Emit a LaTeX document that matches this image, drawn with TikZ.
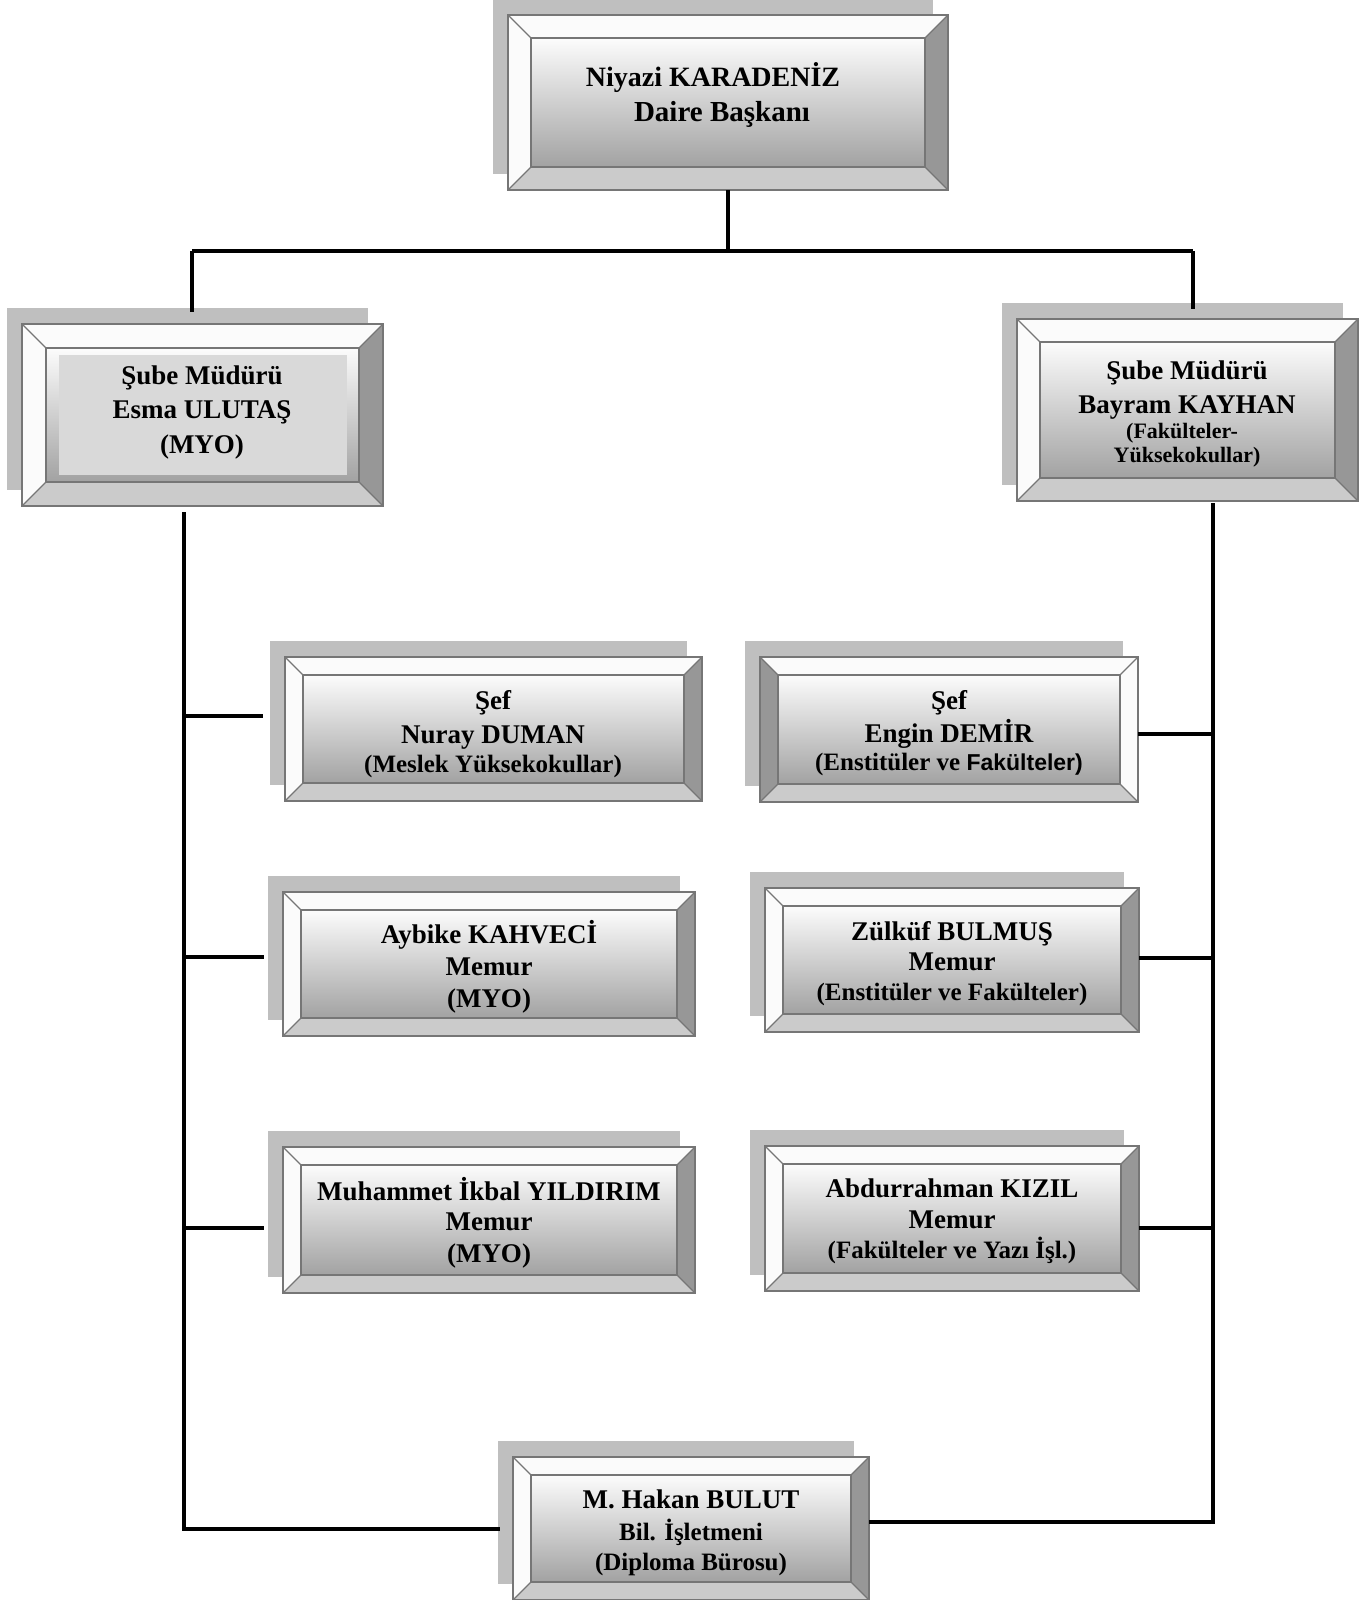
\documentclass[tikz,border=0pt]{standalone}
\usepackage{fontspec}
\setmainfont{Liberation Serif}
\newfontfamily\sansb{Liberation Sans}
\usetikzlibrary{calc}
\definecolor{shadowc}{HTML}{BFBFBF}
\definecolor{bordc}{HTML}{767676}
\definecolor{lightbev}{HTML}{FBFBFB}
\definecolor{darkbev}{HTML}{979797}
\definecolor{botbev}{HTML}{CBCBCB}
\definecolor{innertop}{HTML}{FCFCFC}
\definecolor{innermid}{HTML}{D8D8D8}
\definecolor{innerbot}{HTML}{A2A2A2}
\definecolor{panelc}{HTML}{D9D9D9}
\tikzset{
  boxframe/.style={inner sep=0pt, outer sep=0pt, draw=none},
  conn/.style={line width=3.3pt, black},
  busline/.style={line width=4.4pt, black},
  txt/.style={font=\bfseries, inner sep=0pt, anchor=base, text=black},
}
% name, x1, y1, x2, y2, bevel, left bevel colour, right bevel colour
\newcommand\bevbox[8]{%
  \fill[shadowc] (#2-15,#3-16) rectangle (#4-15,#5-16);
  \node[boxframe, minimum width={(#4-#2)*1pt}, minimum height={(#5-#3)*1pt}] (#1) at ({(#2+#4)/2},{(#3+#5)/2}) {};
  \coordinate (#1-a) at ($(#1.north west)+(#6,#6)$);
  \coordinate (#1-b) at ($(#1.north east)+(-#6,#6)$);
  \coordinate (#1-c) at ($(#1.south east)+(-#6,-#6)$);
  \coordinate (#1-d) at ($(#1.south west)+(#6,-#6)$);
  \fill[lightbev] (#1.north west) -- (#1.north east) -- (#1-b) -- (#1-a) -- cycle;
  \fill[#7] (#1.north west) -- (#1-a) -- (#1-d) -- (#1.south west) -- cycle;
  \fill[#8] (#1.north east) -- (#1-b) -- (#1-c) -- (#1.south east) -- cycle;
  \fill[botbev] (#1.south west) -- (#1.south east) -- (#1-c) -- (#1-d) -- cycle;
  \shade[top color=innertop, middle color=innermid, bottom color=innerbot] (#1-a) rectangle (#1-c);
  \draw[bordc, line width=1.2pt] (#1.north west) -- (#1-a) (#1.north east) -- (#1-b)
       (#1.south east) -- (#1-c) (#1.south west) -- (#1-d);
  \draw[bordc, line width=1.8pt] (#1-a) rectangle (#1-c);
  \draw[bordc, line width=2pt] (#1.north west) rectangle (#1.south east);
}
\newcommand\nm{\fontsize{27}{27}\selectfont}
\newcommand\sm{\fontsize{25}{25}\selectfont}
\begin{document}
\begin{tikzpicture}[x=1pt,y=-1pt]
\useasboundingbox[fill=white] (0,0) rectangle (1371,1600);

% boxes
\bevbox{top}{508}{15}{948}{190}{23}{lightbev}{darkbev}
\bevbox{subeL}{22}{324}{383}{506}{24}{lightbev}{darkbev}
\fill[panelc] (59,355) rectangle (347,475);
\bevbox{subeR}{1017}{319}{1358}{501}{23}{lightbev}{darkbev}
\bevbox{nuray}{285}{657}{702}{801}{18}{lightbev}{darkbev}
\bevbox{engin}{760}{657}{1138}{802}{18}{darkbev}{lightbev}
\bevbox{aybike}{283}{892}{695}{1036}{18}{lightbev}{darkbev}
\bevbox{zulkuf}{765}{888}{1139}{1032}{18}{lightbev}{darkbev}
\bevbox{muham}{283}{1147}{695}{1293}{18}{lightbev}{darkbev}
\bevbox{abdur}{765}{1146}{1139}{1291}{18}{lightbev}{darkbev}
\bevbox{hakan}{513}{1457}{869}{1600}{18}{lightbev}{darkbev}

% connectors
\coordinate (busL) at (192,251);
\coordinate (busR) at (1193,251);
\coordinate (busM) at (top.south |- busL);
\coordinate (dropL) at (192,312);
\coordinate (dropR) at (1193,309);
\draw[conn] (top.south) -- (busM);
\draw[busline] (busL) -- (busR);
\draw[conn] (busL) -- (dropL);
\draw[conn] (busR) -- (dropR);

\coordinate (lvTop) at (184,512);
\coordinate (lvBot) at (184,1529);
\coordinate (hakL) at (500,1529);
\draw[conn] (lvTop) -- (lvBot) -- (hakL);
\coordinate (l1) at (184,716);  \coordinate (l1e) at (263,716);
\coordinate (l2) at (184,957);  \coordinate (l2e) at (264,957);
\coordinate (l3) at (184,1228); \coordinate (l3e) at (264,1228);
\draw[conn] (l1) -- (l1e);
\draw[conn] (l2) -- (l2e);
\draw[conn] (l3) -- (l3e);

\coordinate (rvTop) at (1213,503);
\coordinate (rvBot) at (1213,1522);
\draw[conn] (rvTop) -- (rvBot) -- (hakan.east |- rvBot);
\draw[conn] (engin.east |- 0,734) -- (rvTop |- 0,734);
\draw[conn] (zulkuf.east |- 0,958) -- (rvTop |- 0,958);
\draw[conn] (abdur.east |- 0,1228) -- (rvTop |- 0,1228);

% texts
\node[txt, font=\bfseries\fontsize{28}{28}\selectfont] (t0a) at (713,87) {Niyazi KARADENİZ};
\node[txt, font=\bfseries\fontsize{29}{29}\selectfont] (t0b) at (722,122) {Daire Başkanı};

\node[txt, font=\bfseries\nm] (tLa) at (202,384) {Şube Müdürü};
\node[txt, font=\bfseries\nm] (tLb) at (202,418) {Esma ULUTAŞ};
\node[txt, font=\bfseries\nm] (tLc) at (202,453) {(MYO)};

\node[txt, font=\bfseries\nm] (tRa) at (1187,379) {Şube Müdürü};
\node[txt, font=\bfseries\nm] (tRb) at (1187,413) {Bayram KAYHAN};
\node[txt, font=\bfseries\fontsize{22}{22}\selectfont] (tRc) at (1182,438) {(Fakülteler-};
\node[txt, font=\bfseries\fontsize{22}{22}\selectfont] (tRd) at (1187,462) {Yüksekokullar)};

\node[txt, font=\bfseries\nm] (tNa) at (493,709) {Şef};
\node[txt, font=\bfseries\nm] (tNb) at (493,743) {Nuray DUMAN};
\node[txt, font=\bfseries\sm] (tNc) at (493,772) {(Meslek Yüksekokullar)};

\node[txt, font=\bfseries\nm] (tEa) at (949,709) {Şef};
\node[txt, font=\bfseries\nm] (tEb) at (949,742) {Engin DEMİR};
\node[txt, font=\bfseries\sm] (tEc) at (949,770) {(Enstitüler ve {\sansb\bfseries\fontsize{23}{23}\selectfont Fakülteler)}};

\node[txt, font=\bfseries\nm] (tAa) at (489,943) {Aybike KAHVECİ};
\node[txt, font=\bfseries\nm] (tAb) at (489,975) {Memur};
\node[txt, font=\bfseries\nm] (tAc) at (489,1007) {(MYO)};

\node[txt, font=\bfseries\nm] (tZa) at (952,940) {Zülküf BULMUŞ};
\node[txt, font=\bfseries\nm] (tZb) at (952,970) {Memur};
\node[txt, font=\bfseries\sm] (tZc) at (952,1000) {(Enstitüler ve Fakülteler)};

\node[txt, font=\bfseries\nm] (tMa) at (489,1200) {Muhammet İkbal YILDIRIM};
\node[txt, font=\bfseries\nm] (tMb) at (489,1230) {Memur};
\node[txt, font=\bfseries\nm] (tMc) at (489,1262) {(MYO)};

\node[txt, font=\bfseries\nm] (tBa) at (952,1197) {Abdurrahman KIZIL};
\node[txt, font=\bfseries\nm] (tBb) at (952,1228) {Memur};
\node[txt, font=\bfseries\sm] (tBc) at (952,1258) {(Fakülteler ve Yazı İşl.)};

\node[txt, font=\bfseries\nm] (tHa) at (691,1508) {M. Hakan BULUT};
\node[txt, font=\bfseries\sm] (tHb) at (691,1540) {Bil. İşletmeni};
\node[txt, font=\bfseries\sm] (tHc) at (691,1570) {(Diploma Bürosu)};
\end{tikzpicture}
\end{document}
